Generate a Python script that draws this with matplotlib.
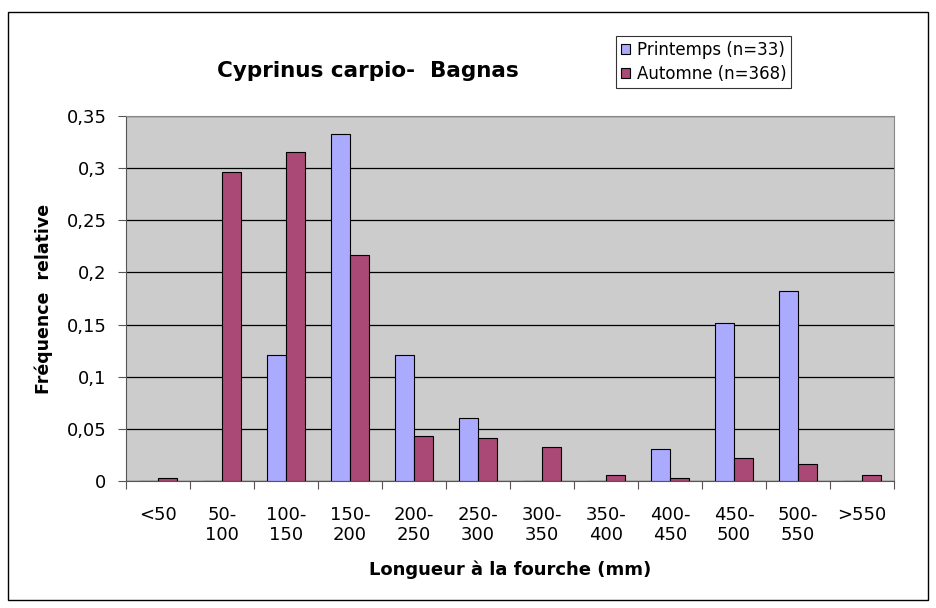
import matplotlib.pyplot as plt
import numpy as np
from matplotlib.patches import Rectangle
from matplotlib.ticker import FuncFormatter, FixedLocator

classes = ['<50', '50-\n100', '100-\n150', '150-\n200', '200-\n250', '250-\n300',
           '300-\n350', '350-\n400', '400-\n450', '450-\n500', '500-\n550', '>550']
printemps = [0, 0, 0.121, 0.333, 0.121, 0.0606, 0, 0, 0.0303, 0.1515, 0.1818, 0]
automne = [0.0027, 0.296, 0.316, 0.217, 0.0435, 0.0408, 0.0326, 0.0054, 0.0027,
           0.0217, 0.0163, 0.0054]
y_ticks = [0, 0.05, 0.1, 0.15, 0.2, 0.25, 0.3, 0.35]

def fmt(v, pos):
    s = ('%.2f' % v).rstrip('0').rstrip('.')
    return s.replace('.', ',')

fig = plt.figure(figsize=(9.36, 6.08), dpi=100)
fig.patches.append(Rectangle((0.009, 0.013), 0.982, 0.968, transform=fig.transFigure,
                             fill=False, edgecolor='black', linewidth=1.0))
ax = fig.add_axes([0.1346, 0.2089, 0.8205, 0.6001])
ax.set_facecolor('#CCCCCC')

x = np.arange(len(classes))
w = 0.29
ax.bar(x - w / 2, printemps, w, color='#AAAAFF', edgecolor='black', linewidth=0.8,
       label='Printemps (n=33)', zorder=3)
ax.bar(x + w / 2, automne, w, color='#AA4876', edgecolor='black', linewidth=0.8,
       label='Automne (n=368)', zorder=3)

ax.set_xlim(-0.5, len(classes) - 0.5)
ax.set_ylim(0, 0.35)
ax.set_yticks(y_ticks)
ax.yaxis.set_major_formatter(FuncFormatter(fmt))
ax.yaxis.grid(True, color='black', linewidth=0.9, zorder=1)
ax.set_axisbelow(True)

# ticks between categories, labels centered
ax.xaxis.set_major_locator(FixedLocator(np.arange(-0.5, len(classes), 1)))
ax.set_xticklabels([])
ax.set_xticks(x, minor=True)
ax.set_xticklabels(classes, minor=True, fontsize=13, family='DejaVu Sans',
                   linespacing=1.15)
ax.tick_params(axis='x', which='minor', length=0, pad=18)
ax.tick_params(axis='x', which='major', length=6, direction='out', color='#555555')
ax.tick_params(axis='y', length=6, direction='out', labelsize=13, color='#555555', pad=8)
for lbl in ax.get_yticklabels():
    lbl.set_family('DejaVu Sans')

for side in ['top', 'right']:
    ax.spines[side].set_color('#888888')
ax.spines['left'].set_color('#555555')
ax.spines['bottom'].set_color('#555555')

ax.set_ylabel('Fréquence  relative', fontsize=12.5, fontweight='bold',
              family='DejaVu Sans', labelpad=10)
ax.set_xlabel('Longueur à la fourche (mm)', fontsize=13, fontweight='bold',
              family='DejaVu Sans', labelpad=12)
fig.text(0.393, 0.883, 'Cyprinus carpio-  Bagnas', fontsize=15.5, fontweight='bold',
         family='DejaVu Sans', ha='center', va='center')

leg = fig.legend(loc='upper left', bbox_to_anchor=(0.658, 0.941),
                 frameon=True, fancybox=False, edgecolor='black', handlelength=0.55,
                 handleheight=0.55, handletextpad=0.4, borderpad=0.3,
                 labelspacing=0.35, borderaxespad=0, prop={'family': 'DejaVu Sans', 'size': 12})
leg.get_frame().set_linewidth(0.8)

fig.savefig('out.png', dpi=100)
